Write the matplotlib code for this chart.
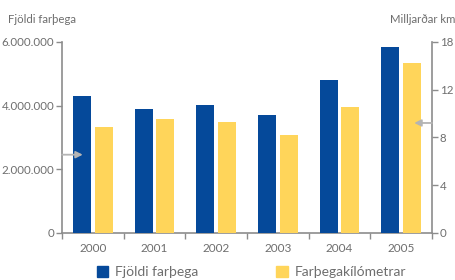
import matplotlib
matplotlib.use("Agg")
import matplotlib.pyplot as plt
from matplotlib.ticker import FuncFormatter
from matplotlib.patches import Patch
import numpy as np

plt.rcParams["font.family"] = ["Lato", "DejaVu Sans"]

# data
years = ["2000", "2001", "2002", "2003", "2004", "2005"]
passengers = [4300000, 3900000, 4020000, 3710000, 4810000, 5840000]
passenger_km = [8.9, 9.55, 9.3, 8.2, 10.55, 14.25]  # milljarðar km
left_ticks = [0, 2000000, 4000000, 6000000]
right_ticks = [0, 4, 8, 12, 16]
right_labels = ["0", "4", "8", "12", "18"]

blue = "#05499a"
yellow = "#ffd55a"
grey = "#8c8c8c"
text_grey = "#6e6e6e"

fig = plt.figure(figsize=(4.55, 2.8), dpi=100)
ax = fig.add_axes([0.1363, 0.1679, 0.8132, 0.6821])
ax2 = ax.twinx()

x = np.arange(len(years))
w = 0.29
ax.bar(x - 0.177, passengers, w, color=blue, zorder=3)
ax2.bar(x + 0.177, passenger_km, w, color=yellow, zorder=3)

ax.set_xlim(-0.5, len(years) - 0.5)
ax.set_ylim(0, 6000000)
ax2.set_ylim(0, 16)

ax.set_yticks(left_ticks)
ax.yaxis.set_major_formatter(FuncFormatter(lambda v, p: f"{int(v):,}".replace(",", ".")))
ax2.set_yticks(right_ticks)
ax2.set_yticklabels(right_labels)

# category ticks sit between the groups
ax.set_xticks(np.arange(-0.5, len(years), 1.0))
ax.set_xticklabels([])
ax.set_xticks(x, minor=True)
ax.set_xticklabels(years, minor=True)
ax.tick_params(axis="x", which="minor", length=0, pad=7, labelsize=8.5, labelcolor=text_grey)
ax.tick_params(axis="x", which="major", length=4, width=1, color=grey)

for a in (ax, ax2):
    for s in a.spines.values():
        s.set_visible(False)
    a.tick_params(axis="y", length=4, width=1, color=grey, labelcolor=text_grey,
                  labelsize=8.3, pad=1.5)
ax.spines["left"].set_visible(True)
ax.spines["bottom"].set_visible(True)
ax2.spines["right"].set_visible(True)
for s in (ax.spines["left"], ax.spines["bottom"], ax2.spines["right"]):
    s.set_color(grey)
    s.set_linewidth(1.2)

# arrows pointing to the axis each series uses
arrow = dict(arrowstyle="-|>", color="#b4b4b4", lw=1.3, mutation_scale=10,
             shrinkA=0, shrinkB=0)
ax2.annotate("", xy=(0.056, 0.41), xytext=(0.0, 0.41), xycoords="axes fraction",
             arrowprops=arrow, zorder=5)
ax2.annotate("", xy=(0.952, 0.576), xytext=(1.0, 0.576), xycoords="axes fraction",
             arrowprops=arrow, zorder=5)

fig.text(0.018, 0.932, "Fjöldi farþega", fontsize=8.2, color=text_grey, va="center")
fig.text(0.857, 0.932, "Milljarðar km", fontsize=8.2, color=text_grey, va="center")

handles = [Patch(color=blue, label="Fjöldi farþega"),
           Patch(color=yellow, label="Farþegakílómetrar")]
fig.legend(handles=handles, loc="center left", bbox_to_anchor=(0.214, 0.028), ncol=2,
           frameon=False, fontsize=10, handlelength=0.8, handleheight=0.8,
           handletextpad=0.5, columnspacing=5.6, labelcolor=text_grey,
           borderaxespad=0, borderpad=0)

fig.savefig("out.png", dpi=100)
